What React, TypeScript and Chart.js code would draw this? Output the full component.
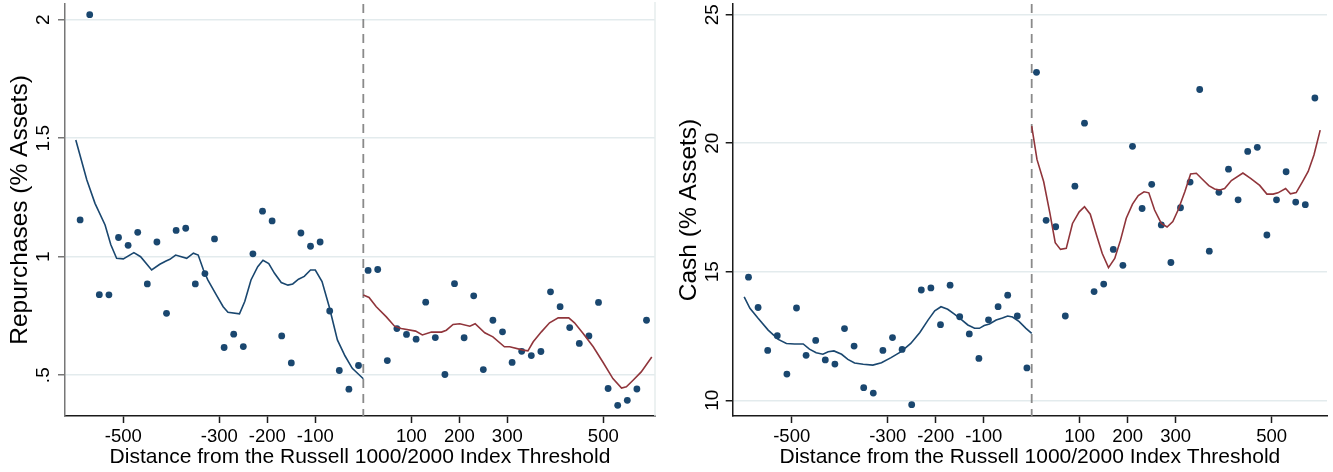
import React, { useEffect, useRef } from "react";
import { Chart, registerables } from "chart.js";

Chart.register(...registerables);

// ---------- data ----------
const THRESHOLD = 0;
const X_AXIS_TITLE = "Distance from the Russell 1000/2000 Index Threshold";
const xTickValues = [-500, -300, -200, -100, 100, 200, 300, 500];
const xTickLabels = ["-500", "-300", "-200", "-100", "100", "200", "300", "500"];

const binsLeft = [-590, -570, -550, -530, -510, -490, -470, -450, -430, -410, -390, -370, -350, -330, -310, -290, -270, -250, -230, -210, -190, -170, -150, -130, -110, -90, -70, -50, -30, -10];
const binsRight = [10, 30, 50, 70, 90, 110, 130, 150, 170, 190, 210, 230, 250, 270, 290, 310, 330, 350, 370, 390, 410, 430, 450, 470, 490, 510, 530, 550, 570, 590];

// Panel 1: Repurchases
const repTitle = "Repurchases (% Assets)";
const repTickValues = [0.5, 1, 1.5, 2];
const repTickLabels = [".5", "1", "1.5", "2"];
const repLeft = [1.155, 2.021, 0.84, 0.839, 1.081, 1.048, 1.103, 0.885, 1.062, 0.761, 1.111, 1.12, 0.885, 0.929, 1.075, 0.617, 0.673, 0.621, 1.012, 1.192, 1.151, 0.666, 0.552, 1.1, 1.044, 1.062, 0.771, 0.52, 0.441, 0.541];
const repRight = [0.942, 0.946, 0.562, 0.697, 0.672, 0.652, 0.808, 0.659, 0.503, 0.886, 0.658, 0.835, 0.524, 0.732, 0.683, 0.554, 0.601, 0.583, 0.6, 0.852, 0.789, 0.701, 0.634, 0.666, 0.807, 0.444, 0.373, 0.394, 0.442, 0.732];
const repFitLeftX = [-599, -576, -559, -538, -526, -514, -500, -478, -464, -441, -424, -411, -403, -391, -368, -354, -344, -333, -324, -306, -292, -282, -258, -247, -234, -220, -209, -197, -185, -171, -157, -147, -135, -123, -110, -100, -86, -71, -54, -38, -23, 0];
const repFitLeftY = [1.492, 1.324, 1.225, 1.134, 1.05, 0.993, 0.991, 1.017, 1.0, 0.944, 0.968, 0.982, 0.989, 1.007, 0.993, 1.015, 1.007, 0.944, 0.902, 0.838, 0.789, 0.766, 0.759, 0.811, 0.902, 0.958, 0.985, 0.971, 0.93, 0.891, 0.88, 0.885, 0.905, 0.917, 0.944, 0.944, 0.895, 0.789, 0.649, 0.581, 0.529, 0.485];
const repFitRightX = [0, 12, 27, 48, 65, 79, 109, 123, 142, 163, 173, 187, 201, 222, 233, 253, 270, 294, 305, 333, 343, 354, 371, 388, 406, 428, 440, 458, 479, 499, 520, 538, 548, 562, 579, 601];
const repFitRightY = [0.838, 0.828, 0.789, 0.746, 0.707, 0.697, 0.686, 0.67, 0.682, 0.682, 0.69, 0.714, 0.717, 0.707, 0.717, 0.679, 0.662, 0.62, 0.62, 0.606, 0.603, 0.641, 0.683, 0.721, 0.742, 0.742, 0.721, 0.676, 0.62, 0.556, 0.486, 0.446, 0.451, 0.479, 0.514, 0.577];

// Panel 2: Cash
const cashTitle = "Cash (% Assets)";
const cashTickValues = [10, 15, 20, 25];
const cashTickLabels = ["10", "15", "20", "25"];
const cashLeft = [14.79, 13.61, 11.94, 12.51, 11.02, 13.59, 11.75, 12.33, 11.57, 11.41, 12.79, 12.11, 10.49, 10.28, 11.94, 12.44, 11.98, 9.83, 14.29, 14.37, 12.94, 14.48, 13.25, 12.58, 11.63, 13.13, 13.64, 14.09, 13.28, 11.26];
const cashRight = [22.76, 17.0, 16.75, 13.28, 18.33, 20.78, 14.23, 14.52, 15.87, 15.25, 19.88, 17.46, 18.4, 16.82, 15.36, 17.49, 18.49, 22.09, 15.8, 18.09, 18.99, 17.8, 19.68, 19.84, 16.43, 17.8, 18.89, 17.71, 17.61, 21.76];
const cashFitLeftX = [-599, -587, -570, -549, -528, -511, -494, -476, -463, -449, -435, -424, -412, -396, -383, -369, -351, -331, -313, -293, -272, -252, -233, -216, -202, -189, -175, -161, -147, -133, -119, -109, -99, -88, -74, -61, -50, -40, -26, -12, 0];
const cashFitLeftY = [14.02, 13.58, 13.19, 12.73, 12.37, 12.21, 12.19, 12.19, 11.99, 11.85, 11.79, 11.89, 11.92, 11.79, 11.59, 11.45, 11.4, 11.37, 11.46, 11.66, 11.89, 12.21, 12.64, 13.12, 13.48, 13.64, 13.54, 13.35, 13.15, 12.93, 12.8, 12.8, 12.91, 12.97, 13.12, 13.2, 13.28, 13.24, 13.06, 12.8, 12.6];
const cashFitRightX = [0, 11, 25, 38, 49, 60, 72, 85, 99, 110, 122, 135, 147, 160, 173, 185, 197, 210, 222, 234, 244, 256, 270, 282, 294, 305, 319, 331, 343, 356, 369, 381, 392, 402, 416, 440, 456, 475, 490, 503, 513, 529, 539, 551, 564, 576, 588, 601];
const cashFitRightY = [20.67, 19.37, 18.5, 17.27, 16.13, 15.87, 15.91, 16.88, 17.33, 17.53, 17.24, 16.43, 15.71, 15.16, 15.52, 16.23, 17.08, 17.63, 17.96, 18.11, 18.07, 17.4, 16.88, 16.74, 16.95, 17.4, 18.11, 18.8, 18.83, 18.59, 18.35, 18.22, 18.18, 18.24, 18.55, 18.84, 18.63, 18.36, 18.02, 18.02, 18.07, 18.24, 18.03, 18.08, 18.5, 18.9, 19.54, 20.51];

// ---------- styles ----------
const NAVY = "#1a476f";
const MAROON = "#90353b";
const GRID = "#e3ebed";
const FONT = "'Liberation Sans', Arial, Helvetica, sans-serif";
const H = 472;

const zip = (xs: number[], ys: number[]) => xs.map((x, i) => ({ x, y: ys[i] }));

const refPlugin = {
  id: "refline",
  beforeDatasetsDraw(chart: any, _args: any, opts: any) {
    const { ctx, chartArea, scales } = chart;
    ctx.save();
    if (opts && opts.border) {
      ctx.strokeStyle = "#e6eded";
      ctx.lineWidth = 1.5;
      ctx.beginPath();
      ctx.moveTo(chartArea.right, chartArea.top - 2);
      ctx.lineTo(chartArea.right, chartArea.bottom);
      ctx.stroke();
    }
    const x = scales.x.getPixelForValue(THRESHOLD);
    ctx.strokeStyle = "#8a8a8a";
    ctx.lineWidth = 1.8;
    ctx.setLineDash([9, 6]);
    ctx.beginPath();
    ctx.moveTo(x, chartArea.top);
    ctx.lineTo(x, chartArea.bottom);
    ctx.stroke();
    ctx.restore();
  },
};

type Panel = {
  yTitle: string;
  yTicks: number[];
  yLabels: string[];
  left: number[];
  right: number[];
  fitLX: number[];
  fitLY: number[];
  fitRX: number[];
  fitRY: number[];
  yWidth: number;
  padRight: number;
  xMin: number;
  xMax: number;
  yMin: number;
  yMax: number;
  yTitlePad: number;
  yTickPad: number;
  yAxisColor: string;
  border: boolean;
};

function buildConfig(p: Panel): any {
  return {
    type: "scatter",
    data: {
      datasets: [
        { data: zip(p.fitLX, p.fitLY), showLine: true, borderColor: NAVY, borderWidth: 1.6, pointRadius: 0, tension: 0 },
        { data: zip(p.fitRX, p.fitRY), showLine: true, borderColor: MAROON, borderWidth: 1.6, pointRadius: 0, tension: 0 },
        { data: zip(binsLeft, p.left), pointRadius: 3.4, pointBackgroundColor: NAVY, pointBorderWidth: 0 },
        { data: zip(binsRight, p.right), pointRadius: 3.4, pointBackgroundColor: NAVY, pointBorderWidth: 0 },
      ],
    },
    plugins: [refPlugin],
    options: {
      animation: false,
      responsive: false,
      events: [],
      layout: { padding: { left: 0, right: p.padRight, top: 4, bottom: 0 } },
      plugins: { legend: { display: false }, tooltip: { enabled: false }, refline: { border: p.border } },
      scales: {
        x: {
          type: "linear",
          min: p.xMin,
          max: p.xMax,
          afterBuildTicks: (s: any) => {
            s.ticks = xTickValues.map((v) => ({ value: v }));
          },
          afterFit: (s: any) => {
            s.height = 56;
            s.paddingLeft = 0;
            s.paddingRight = 0;
          },
          grid: { display: true, drawOnChartArea: false, drawTicks: true, tickLength: 7, tickColor: "#1a1a1a", tickWidth: 1.5 },
          border: { display: true, color: "#1a1a1a", width: 1.5 },
          ticks: {
            color: "#000",
            font: { size: 18.5, family: FONT },
            padding: 3,
            autoSkip: false,
            maxRotation: 0,
            callback: (v: number) => xTickLabels[xTickValues.indexOf(v)] ?? "",
          },
          title: {
            display: true,
            text: X_AXIS_TITLE,
            color: "#000",
            font: { size: 21, family: FONT },
            padding: { top: 0, bottom: 1.7 },
          },
        },
        y: {
          type: "linear",
          min: p.yMin,
          max: p.yMax,
          afterBuildTicks: (s: any) => {
            s.ticks = p.yTicks.map((v) => ({ value: v }));
          },
          afterFit: (s: any) => {
            s.width = p.yWidth;
            s.paddingTop = 0;
            s.paddingBottom = 0;
          },
          grid: { color: GRID, lineWidth: 1.5, drawTicks: true, tickLength: 7, tickColor: p.yAxisColor, tickWidth: 1.5 },
          border: { display: true, color: p.yAxisColor, width: 1.5 },
          ticks: {
            color: "#000",
            font: { size: 19, family: FONT },
            padding: p.yTickPad,
            minRotation: 90,
            maxRotation: 90,
            crossAlign: "center",
            autoSkip: false,
            callback: (v: number) => p.yLabels[p.yTicks.indexOf(v)] ?? "",
          },
          title: {
            display: true,
            text: p.yTitle,
            color: "#000",
            font: { size: 24.5, family: FONT },
            padding: { top: p.yTitlePad, bottom: 0 },
          },
        },
      },
    },
  };
}

const leftPanel: Panel = {
  yTitle: repTitle,
  yTicks: repTickValues,
  yLabels: repTickLabels,
  left: repLeft,
  right: repRight,
  fitLX: repFitLeftX,
  fitLY: repFitLeftY,
  fitRX: repFitRightX,
  fitRY: repFitRightY,
  yWidth: 65,
  padRight: 11,
  xMin: -621.5,
  xMax: 607.7,
  yMin: 0.328,
  yMax: 2.066,
  yTitlePad: 5.1,
  yTickPad: 1.4,
  yAxisColor: "#777777",
  border: true,
};

const rightPanel: Panel = {
  yTitle: cashTitle,
  yTicks: cashTickValues,
  yLabels: cashTickLabels,
  left: cashLeft,
  right: cashRight,
  fitLX: cashFitLeftX,
  fitLY: cashFitLeftY,
  fitRX: cashFitRightX,
  fitRY: cashFitRightY,
  yWidth: 66.7,
  padRight: 6,
  xMin: -622.9,
  xMax: 615.2,
  yMin: 9.389,
  yMax: 25.416,
  yTitlePad: 8.3,
  yTickPad: 2.4,
  yAxisColor: "#1a1a1a",
  border: false,
};

export default function App() {
  const leftRef = useRef<HTMLCanvasElement | null>(null);
  const rightRef = useRef<HTMLCanvasElement | null>(null);

  useEffect(() => {
    Chart.defaults.font.family = FONT;
    const charts: Chart[] = [];
    if (leftRef.current) charts.push(new Chart(leftRef.current, buildConfig(leftPanel)));
    if (rightRef.current) charts.push(new Chart(rightRef.current, buildConfig(rightPanel)));
    return () => charts.forEach((c) => c.destroy());
  }, []);

  return (
    <div style={{ position: "fixed", left: 0, top: 0, width: 1333, height: H, background: "#fff", display: "flex" }}>
      <canvas ref={leftRef} width={666} height={H} style={{ width: 666, height: H, display: "block" }} />
      <canvas ref={rightRef} width={667} height={H} style={{ width: 667, height: H, display: "block" }} />
    </div>
  );
}
